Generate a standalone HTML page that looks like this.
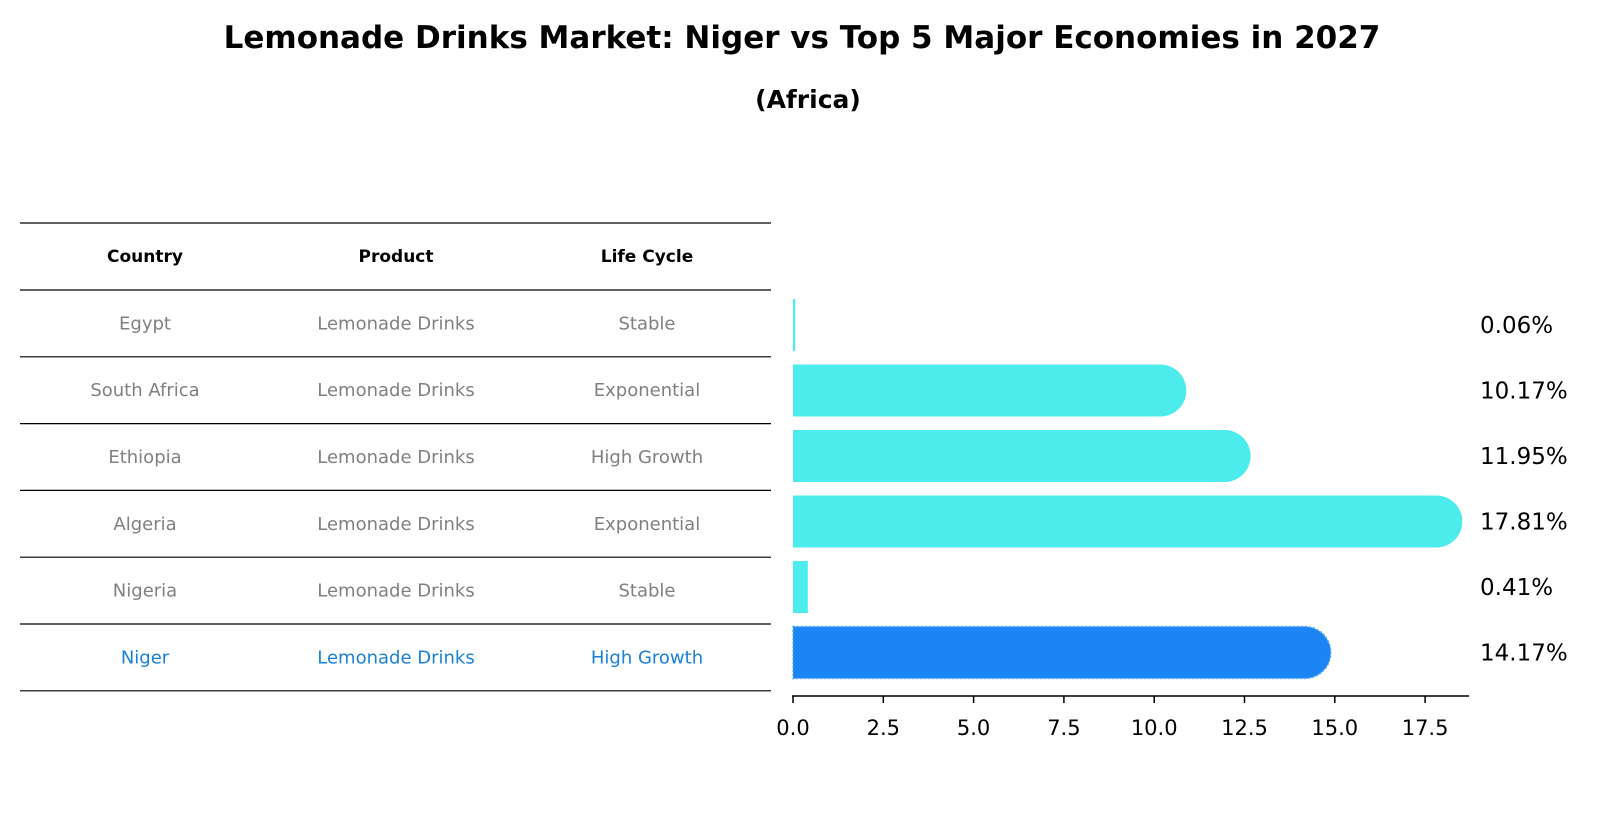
<!DOCTYPE html>
<html><head><meta charset="utf-8"><style>
body{margin:0;background:#fff;}
svg{display:block;font-family:"Liberation Sans","DejaVu Sans",sans-serif;}
</style></head><body>
<svg width="1604" height="823" viewBox="0 0 1604 823">
<text x="802" y="48" text-anchor="middle" font-size="31" font-weight="bold" font-family="DejaVu Sans, sans-serif">Lemonade Drinks Market: Niger vs Top 5 Major Economies in 2027</text>
<text x="808" y="108" text-anchor="middle" font-size="25" font-weight="bold" font-family="DejaVu Sans, sans-serif">(Africa)</text>
<g id="table"></g>
<g id="plot"></g>
</svg>
<script>
const countries = ["Egypt","South Africa","Ethiopia","Algeria","Nigeria","Niger"];
const products = ["Lemonade Drinks","Lemonade Drinks","Lemonade Drinks","Lemonade Drinks","Lemonade Drinks","Lemonade Drinks"];
const lifeCycles = ["Stable","Exponential","High Growth","Exponential","Stable","High Growth"];
const values = [0.06,10.17,11.95,17.81,0.41,14.17];
const valueLabels = ["0.06%","10.17%","11.95%","17.81%","0.41%","14.17%"];
const ticks = [0,2.5,5,7.5,10,12.5,15,17.5];
const tickLabels = ["0.0","2.5","5.0","7.5","10.0","12.5","15.0","17.5"];
const highlight = "Niger";

const NS="http://www.w3.org/2000/svg";
function mk(tag,attrs,parent){const e=document.createElementNS(NS,tag);for(const k in attrs)e.setAttribute(k,attrs[k]);parent.appendChild(e);return e;}
const x=v=>793+v*36.12;
const rowY=i=>325+i*65.5;
const table=document.getElementById('table');
const plot=document.getElementById('plot');
const lineYs=[223,290];
for(let i=0;i<countries.length;i++)lineYs.push(290+(i+1)*66.8);
lineYs.forEach((ly,i)=>{
  const l=mk('line',{x1:20,x2:771,y1:ly,y2:ly,stroke:'#000','stroke-width':1.2},table);
  
  
});
const colX=[145,396,647];
const headers=["Country","Product","Life Cycle"];
headers.forEach((h,j)=>{
  const t=mk('text',{x:colX[j],y:262,'text-anchor':'middle','font-size':17,'font-weight':'bold','font-family':'DejaVu Sans, sans-serif'},table);
  t.textContent=h;
  
  
});
for(let i=0;i<countries.length;i++){
  const cy=290+i*66.8+33.4+6;
  const col=countries[i]===highlight?'#1a80d8':'#808080';
  [countries[i],products[i],lifeCycles[i]].forEach((s,j)=>{
    const t=mk('text',{x:colX[j],y:cy,'text-anchor':'middle','font-size':18,fill:col,'font-family':'DejaVu Sans, sans-serif'},table);
    t.textContent=s;
    
    
  });
}
for(let i=0;i<values.length;i++){
  const cy=rowY(i), h=52, r=26;
  const isH=countries[i]===highlight;
  const fill=isH?'#1a85f3':'#4beceb';
  const xe=x(values[i]);
  let d;
  if(values[i]>1){
    d=`M${x(0)},${cy-h/2} L${xe},${cy-h/2} A${r},${r} 0 0 1 ${xe},${cy+h/2} L${x(0)},${cy+h/2} Z`;
  } else {
    d=`M${x(0)},${cy-h/2} L${Math.max(xe,x(0)+2)},${cy-h/2} L${Math.max(xe,x(0)+2)},${cy+h/2} L${x(0)},${cy+h/2} Z`;
  }
  const attrs={d:d,fill:fill};
  if(isH){attrs.stroke='#5aa9f5';attrs['stroke-width']=1.5;attrs['stroke-dasharray']='2,2';}
  const b=mk('path',attrs,plot);
  
  
  const t=mk('text',{x:1480,y:cy+8,'font-size':23,'font-family':'DejaVu Sans, sans-serif'},plot);
  t.textContent=valueLabels[i];
  
  
}
const ax=mk('line',{x1:x(0)-1,x2:1469,y1:696,y2:696,stroke:'#000','stroke-width':1.5},plot);


ticks.forEach((tv,k)=>{
  const tk=mk('line',{x1:x(tv),x2:x(tv),y1:696,y2:703,stroke:'#000','stroke-width':1.5},plot);
  
  
  const tl=mk('text',{x:x(tv),y:735,'text-anchor':'middle','font-size':21,'font-family':'DejaVu Sans, sans-serif'},plot);
  tl.textContent=tickLabels[k];
  
  
});
</script>
</body></html>
